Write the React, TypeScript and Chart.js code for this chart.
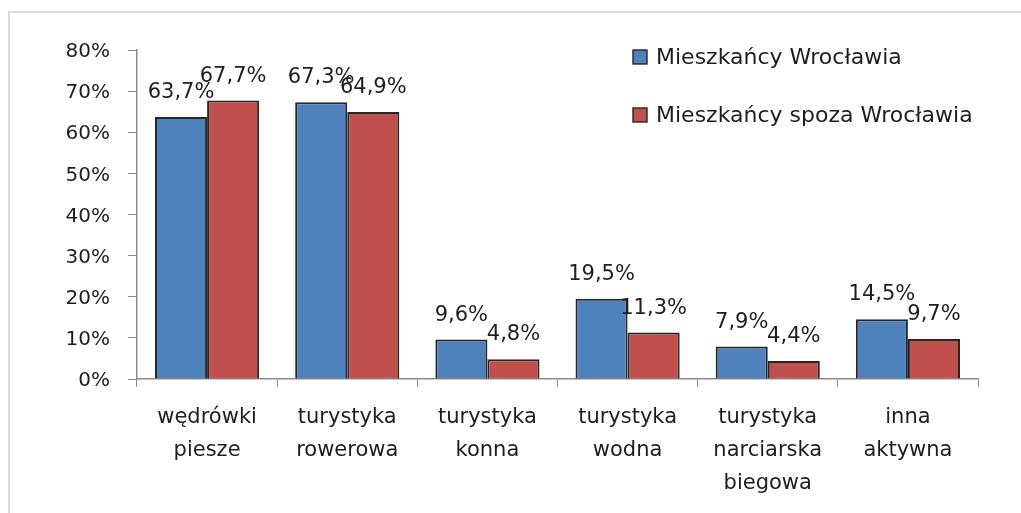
import React, { useEffect, useRef } from "react";
import { Chart, registerables } from "chart.js";

Chart.register(...registerables);

const categories: string[][] = [
  ["wędrówki", "piesze"],
  ["turystyka", "rowerowa"],
  ["turystyka", "konna"],
  ["turystyka", "wodna"],
  ["turystyka", "narciarska", "biegowa"],
  ["inna", "aktywna"],
];
const seriesNames = ["Mieszkańcy Wrocławia", "Mieszkańcy spoza Wrocławia"];
const wroclaw = [63.7, 67.3, 9.6, 19.5, 7.9, 14.5];
const spoza = [67.7, 64.9, 4.8, 11.3, 4.4, 9.7];
const yTicks = [0, 10, 20, 30, 40, 50, 60, 70, 80];

const FONT = "'DejaVu Sans', sans-serif";
const TEXT = "#1e1e1e";
const AXIS = "#8c8c8c";

const fmt = (v: number) => v.toFixed(1).replace(".", ",") + "%";

const frame = {
  id: "frame",
  beforeDraw(chart: any) {
    const ctx = chart.ctx;
    ctx.save();
    ctx.strokeStyle = "#d9d9d9";
    ctx.lineWidth = 2;
    ctx.beginPath();
    ctx.moveTo(9, chart.height);
    ctx.lineTo(9, 12);
    ctx.lineTo(chart.width, 12);
    ctx.stroke();
    ctx.restore();
  },
};

const valueLabels = {
  id: "valueLabels",
  afterDatasetsDraw(chart: any) {
    const ctx = chart.ctx;
    ctx.save();
    ctx.font = `21px ${FONT}`;
    ctx.fillStyle = TEXT;
    ctx.textAlign = "center";
    ctx.textBaseline = "alphabetic";
    chart.data.datasets.forEach((ds: any, di: number) => {
      const meta = chart.getDatasetMeta(di);
      meta.data.forEach((el: any, i: number) => {
        ctx.fillText(fmt(ds.data[i]), el.x, el.y - 19);
      });
    });
    ctx.restore();
  },
};

const customLegend = {
  id: "customLegend",
  afterDraw(chart: any) {
    const ctx = chart.ctx;
    const area = chart.chartArea;
    const x0 = area.right - 345;
    const rows = [area.top + 7, area.top + 65];
    ctx.save();
    ctx.font = `22px ${FONT}`;
    ctx.textAlign = "left";
    ctx.textBaseline = "middle";
    chart.data.datasets.forEach((ds: any, i: number) => {
      const cy = rows[i];
      ctx.fillStyle = ds.backgroundColor;
      ctx.fillRect(x0, cy - 7, 14, 14);
      ctx.strokeStyle = "#262626";
      ctx.lineWidth = 1.4;
      ctx.strokeRect(x0, cy - 7, 14, 14);
      ctx.fillStyle = TEXT;
      ctx.fillText(ds.label, x0 + 23, cy + 1);
    });
    ctx.restore();
  },
};

export default function App() {
  const ref = useRef<HTMLCanvasElement>(null);

  useEffect(() => {
    if (!ref.current) return;
    const chart = new Chart(ref.current, {
      type: "bar",
      data: {
        labels: categories,
        datasets: [
          {
            label: seriesNames[0],
            data: wroclaw,
            backgroundColor: "#4F81BD",
            borderColor: "#262626",
            borderWidth: 2,
            categoryPercentage: 0.743,
            barPercentage: 1,
          },
          {
            label: seriesNames[1],
            data: spoza,
            backgroundColor: "#C0504D",
            borderColor: "#262626",
            borderWidth: 2,
            categoryPercentage: 0.743,
            barPercentage: 1,
          },
        ],
      },
      options: {
        responsive: false,
        animation: false,
        layout: { padding: { top: 50, right: 43, bottom: 0, left: 0 } },
        plugins: {
          legend: { display: false },
          tooltip: { enabled: false },
        },
        scales: {
          x: {
            grid: {
              display: true,
              drawOnChartArea: false,
              drawTicks: true,
              tickLength: 8,
              color: AXIS,
            },
            border: { display: true, color: AXIS, width: 1.5 },
            ticks: {
              font: { family: FONT, size: 21, lineHeight: 1.57 },
              color: TEXT,
              padding: 14,
              maxRotation: 0,
              autoSkip: false,
            },
            afterFit: (scale: any) => {
              scale.height = 134;
            },
          },
          y: {
            min: yTicks[0],
            max: yTicks[yTicks.length - 1],
            afterBuildTicks: (scale: any) => {
              scale.ticks = yTicks.map((v) => ({ value: v }));
            },
            grid: {
              display: true,
              drawOnChartArea: false,
              drawTicks: true,
              tickLength: 9,
              color: AXIS,
            },
            border: { display: true, color: AXIS, width: 1.5 },
            ticks: {
              font: { family: FONT, size: 20 },
              color: TEXT,
              padding: 18,
              labelOffset: 2,
              callback: (v: any) => `${v}%`,
            },
            afterFit: (scale: any) => {
              scale.width = 137;
            },
          },
        },
      },
      plugins: [frame, valueLabels, customLegend],
    });
    return () => chart.destroy();
  }, []);

  return (
    <div
      style={{
        position: "absolute",
        left: 0,
        top: 0,
        width: 1021,
        height: 513,
        overflow: "hidden",
        background: "#fff",
      }}
    >
      <canvas
        ref={ref}
        width={1021}
        height={513}
        style={{ position: "absolute", left: 0, top: 0, display: "block" }}
      />
    </div>
  );
}
